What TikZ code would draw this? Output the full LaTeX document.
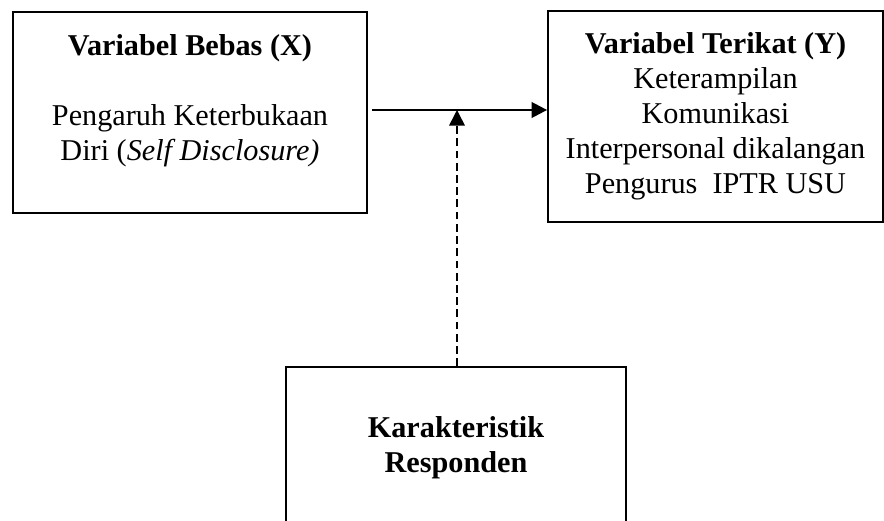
\documentclass[tikz,border=0pt]{standalone}
\usepackage{fontspec}
\setmainfont{Liberation Serif}
\usetikzlibrary{
        arrows.meta,
        positioning
    }
\tikzset{>={Triangle[length=7pt,width=7pt]}}
\tikzset{varbox/.style={draw,rectangle,line width=0.8pt,align=center,inner sep=0pt,
        font=\fontsize{13.6}{15.75}\selectfont}}

\begin{document}
\begin{tikzpicture}[x=0.45pt,y=-0.45pt]
\useasboundingbox (0,0) rectangle (884,521);
    \node[varbox,minimum width=159.3pt,minimum height=90.45pt] (bebas) at (190,112.5) {
                    \textbf{Variabel Bebas (X)}\\[15.75pt]
                    Pengaruh Keterbukaan\\
                    Diri (\textit{Self Disclosure)}\\[-2.5pt]
                    \mbox{}
                    };
    \node[varbox,minimum width=150.75pt,minimum height=94.95pt] (terikat) at (715.5,116.5) {
                    \textbf{Variabel Terikat (Y)}\\
                    Keterampilan\\
                    Komunikasi\\
                    Interpersonal dikalangan\\
                    Pengurus~~IPTR USU\\[-13pt]
                    \mbox{}
                    };
    \node[varbox,minimum width=153pt,minimum height=74.7pt] (resp) at (456,450) {
                    \textbf{Karakteristik}\\
                    \textbf{Responden}\\[-11pt]
                    \mbox{}
                    };
    \coordinate (temu) at (457,110);
    \draw[->,line width=1.1pt,shorten <=2pt] (bebas.east |- temu) -- (terikat.west |- temu);
    \draw[->,line width=0.7pt,dash pattern=on 3.5pt off 2pt] (resp.north -| temu) -- (temu);
\end{tikzpicture}
\end{document}
